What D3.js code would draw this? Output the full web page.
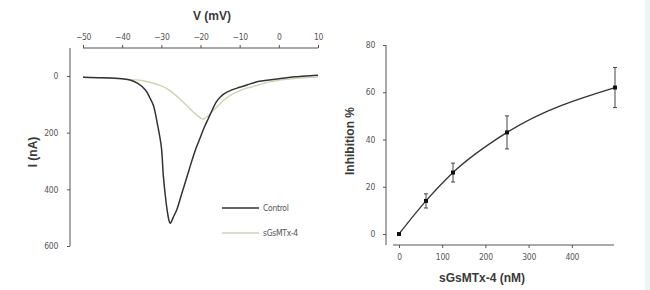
<!DOCTYPE html>
<html lang="en">
<head>
<meta charset="UTF-8">
<title>sGsMTx-4 inhibition</title>
<script src="https://d3js.org/d3.v7.min.js"></script>
<style>
    body { margin: 0; background: #fff; }
    svg { display: block; }
    .tick text { font-family: "DejaVu Sans Condensed", "Liberation Sans Narrow", Arial, sans-serif; font-size: 8.5px; fill: #555; letter-spacing: -0.3px; }
    .axis path, .axis line { stroke: #555; }
    .title { font-family: "Liberation Sans", Arial, sans-serif; font-weight: bold; font-size: 12px; fill: #3a3a3a; }
    .legend { font-family: "DejaVu Sans Condensed", "Liberation Sans Narrow", Arial, sans-serif; font-size: 8.5px; fill: #555; letter-spacing: -0.3px; }
</style>
</head>
<body>
<svg width="650" height="290"></svg>
<script>
// left panel: I-V curves
const voltage = [-50, -45, -40, -38, -36, -34, -33, -32, -31, -30, -29.5, -29, -28.5, -28, -27.7, -27, -26, -25, -24, -23, -22, -21, -20, -19, -18, -17, -16, -15, -14, -12, -10, -8, -6, -4, -2, 0, 2, 4, 6, 8, 10];
const control = [4, 6, 10, 14, 26, 50, 75, 105, 170, 250, 350, 420, 475, 512, 520, 500, 470, 425, 380, 335, 290, 250, 215, 180, 150, 120, 92, 75, 63, 49, 40, 31, 22, 17, 13, 10, 6, 3, 1, -1, -3];
const voltageTx = [-50, -45, -40, -35, -33, -30, -28, -26, -24, -22, -20, -19.5, -19, -18, -16, -14, -12, -10, -8, -6, -4, -2, 0, 2, 4, 6, 8, 10];
const toxin = [4, 6, 10, 16, 22, 35, 50, 72, 98, 125, 148, 152, 150, 140, 112, 85, 65, 52, 42, 35, 27, 20, 15, 12, 9, 7, 5, 4];
const vTicks = [-50, -40, -30, -20, -10, 0, 10];
const iTicks = [0, 200, 400, 600];

// right panel: dose response
const dose = [0, 62.5, 125, 250, 500];
const inhibition = [0, 14, 26, 43, 62];
const inhibitionErr = [0, 3, 4, 7, 8.5];
const doseTicks = [0, 100, 200, 300, 400];
const inhTicks = [0, 20, 40, 60, 80];

const svg = d3.select("svg");

// faint strip at right edge
svg.append("rect").attr("x", 645).attr("y", 0).attr("width", 5).attr("height", 290).attr("fill", "#eef5f7");

// ---- left panel ----
const xV = d3.scaleLinear().domain([-50, 10]).range([83, 318]);
const yI = d3.scaleLinear().domain([0, 600]).range([76, 246]);

svg.append("g").attr("class", "axis")
    .attr("transform", "translate(0,48)")
    .call(d3.axisTop(xV).tickValues(vTicks).tickSize(3).tickPadding(5))
    .call(g => g.select(".domain").attr("d", "M83,0H318"));

svg.append("g").attr("class", "axis")
    .attr("transform", "translate(70,0)")
    .call(d3.axisLeft(yI).tickValues(iTicks).tickSize(3).tickPadding(9))
    .call(g => g.select(".domain").attr("d", "M0,48V246"));

const lineV = d3.line().curve(d3.curveCatmullRom.alpha(0.5));

svg.append("path")
    .attr("d", lineV(voltageTx.map((v, i) => [xV(v), yI(toxin[i])])))
    .attr("fill", "none").attr("stroke", "#cbd5b3").attr("stroke-width", 1.4);

svg.append("path")
    .attr("d", lineV(voltage.map((v, i) => [xV(v), yI(control[i])])))
    .attr("fill", "none").attr("stroke", "#333").attr("stroke-width", 1.5);

svg.append("text").attr("class", "title")
    .attr("x", 212).attr("y", 20).attr("text-anchor", "middle").text("V (mV)");
svg.append("text").attr("class", "title")
    .attr("transform", "translate(37,152) rotate(-90)").attr("text-anchor", "middle").text("I (nA)");

// legend
const legend = [["Control", "#333"], ["sGsMTx-4", "#cbd5b3"]];
legend.forEach((d, i) => {
    const y = 208 + i * 25;
    svg.append("line").attr("x1", 222).attr("x2", 259).attr("y1", y).attr("y2", y)
        .attr("stroke", d[1]).attr("stroke-width", 1.5);
    svg.append("text").attr("class", "legend").attr("x", 263).attr("y", y + 3).text(d[0]);
});

// ---- right panel ----
const xD = d3.scaleLinear().domain([0, 500]).range([399, 615]);
const yP = d3.scaleLinear().domain([0, 80]).range([234, 45]);

svg.append("g").attr("class", "axis")
    .attr("transform", "translate(0,245)")
    .call(d3.axisBottom(xD).tickValues(doseTicks).tickSize(3).tickPadding(6))
    .call(g => g.select(".domain").attr("d", "M393,0H614"));

svg.append("g").attr("class", "axis")
    .attr("transform", "translate(386,0)")
    .call(d3.axisLeft(yP).tickValues(inhTicks).tickSize(3).tickPadding(8))
    .call(g => g.select(".domain").attr("d", "M0,45V245"));

svg.append("path")
    .attr("d", d3.line().curve(d3.curveMonotoneX)(dose.map((d, i) => [xD(d), yP(inhibition[i])])))
    .attr("fill", "none").attr("stroke", "#333").attr("stroke-width", 1.3);

const pts = svg.append("g").selectAll("g").data(dose).join("g");
pts.filter((d, i) => inhibitionErr[i] > 0).each(function(d) {
    const i = dose.indexOf(d);
    const g = d3.select(this);
    const x = xD(d), y1 = yP(inhibition[i] + inhibitionErr[i]), y2 = yP(inhibition[i] - inhibitionErr[i]);
    g.append("line").attr("x1", x).attr("x2", x).attr("y1", y1).attr("y2", y2).attr("stroke", "#444");
    g.append("line").attr("x1", x - 2).attr("x2", x + 2).attr("y1", y1).attr("y2", y1).attr("stroke", "#444");
    g.append("line").attr("x1", x - 2).attr("x2", x + 2).attr("y1", y2).attr("y2", y2).attr("stroke", "#444");
});
pts.append("rect")
    .attr("x", (d) => xD(d) - 2).attr("y", (d, i) => yP(inhibition[i]) - 2)
    .attr("width", 4).attr("height", 4).attr("fill", "#111");

svg.append("text").attr("class", "title")
    .attr("x", 482).attr("y", 282).attr("text-anchor", "middle").text("sGsMTx-4 (nM)");
svg.append("text").attr("class", "title")
    .attr("transform", "translate(354,141) rotate(-90)").attr("text-anchor", "middle").text("Inhibition %");
</script>
</body>
</html>
